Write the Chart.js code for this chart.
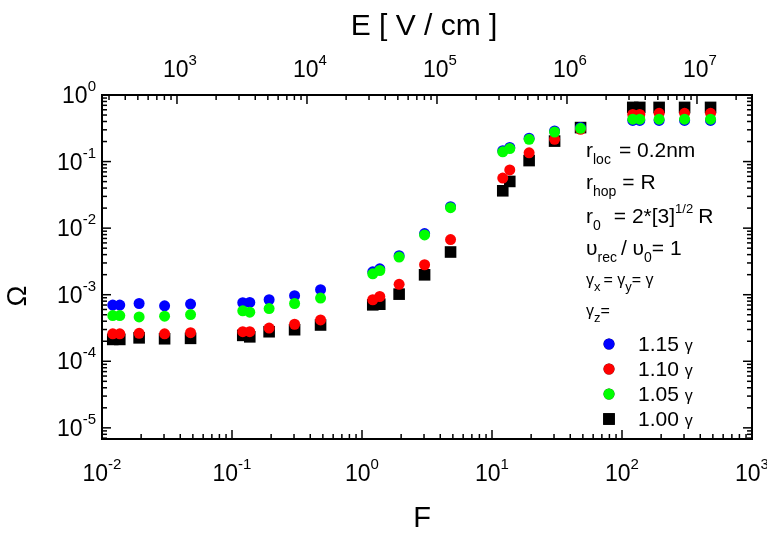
<!DOCTYPE html>
<html>
<head>
<meta charset="utf-8">
<script src="https://cdn.jsdelivr.net/npm/chart.js@4.4.1/dist/chart.umd.min.js"></script>
<style>
  body { margin: 0; background: #fff; }
  #wrap { width: 767px; height: 533px; }
</style>
</head>
<body>
<div id="wrap"><canvas id="omegaChart" width="767" height="533"></canvas></div>
<script>
// reduced field F (same for every series)
var F = [0.0121, 0.0137, 0.0193, 0.0303, 0.048,
         0.121, 0.137, 0.193, 0.303, 0.48,
         1.21, 1.37, 1.93, 3.03, 4.8,
         12.1, 13.7, 19.3, 30.3, 48,
         121, 137, 193, 303, 480];

// Omega for gamma_z = 1.15, 1.10, 1.05, 1.00 gamma
var omega115 = [6.98e-4, 6.98e-4, 7.38e-4, 6.81e-4, 7.23e-4,
                7.57e-4, 7.65e-4, 8.4e-4, 9.66e-4, 1.19e-3,
                2.21e-3, 2.45e-3, 3.86e-3, 8.3e-3, 2.1e-2,
                0.146, 0.163, 0.224, 0.288, 0.325,
                0.415, 0.415, 0.415, 0.415, 0.415];
var omega110 = [2.59e-4, 2.59e-4, 2.63e-4, 2.59e-4, 2.69e-4,
                2.78e-4, 2.78e-4, 3.16e-4, 3.6e-4, 4.18e-4,
                8.4e-4, 9.4e-4, 1.43e-3, 2.82e-3, 6.74e-3,
                0.0566, 0.0749, 0.1355, 0.216, 0.305,
                0.51, 0.51, 0.53, 0.53, 0.53];
var omega105 = [4.86e-4, 4.86e-4, 4.64e-4, 4.76e-4, 5.03e-4,
                5.73e-4, 5.47e-4, 6.2e-4, 7.38e-4, 8.9e-4,
                2.06e-3, 2.31e-3, 3.67e-3, 7.9e-3, 2.03e-2,
                0.140, 0.157, 0.216, 0.278, 0.316,
                0.433, 0.433, 0.433, 0.433, 0.433];
var omega100 = [2.13e-4, 2.13e-4, 2.25e-4, 2.18e-4, 2.21e-4,
                2.45e-4, 2.33e-4, 2.78e-4, 2.98e-4, 3.51e-4,
                7.05e-4, 7.2e-4, 1.02e-3, 1.99e-3, 4.38e-3,
                0.0364, 0.0503, 0.1035, 0.203, 0.324,
                0.651, 0.651, 0.651, 0.651, 0.651];

var seriesLabels = ['1.15', '1.10', '1.05', '1.00'];
var xTickExp = [-2, -1, 0, 1, 2, 3];
var eTickExp = [3, 4, 5, 6, 7];
var yTickExp = [0, -1, -2, -3, -4, -5];
var eFactor = 2.65e4; // E [V/cm] = F * eFactor

var FONT = '"Liberation Sans", Arial, sans-serif';

function toPoints(ys) {
    return F.map(function (f, i) { return { x: f, y: ys[i] }; });
}

// list of log ticks (1..9 x 10^n) inside [min, max]
function logTicks(min, max) {
    var out = [];
    for (var e = Math.floor(Math.log10(min)) - 1; e <= Math.ceil(Math.log10(max)); e++) {
        for (var m = 1; m <= 9; m++) {
            var v = m * Math.pow(10, e);
            if (v < min * 0.9999 || v > max * 1.0001) continue;
            out.push({ v: v, major: m === 1 });
        }
    }
    return out;
}

// draws text made of parts {t, size, dy}
function drawRich(ctx, x, y, parts, align) {
    var w = 0;
    parts.forEach(function (p) {
        ctx.font = p.size + 'px ' + FONT;
        p.w = ctx.measureText(p.t).width;
        w += p.w + (p.gap || 0);
    });
    var cx = x;
    if (align === 'center') cx = x - w / 2;
    if (align === 'right') cx = x - w;
    ctx.textAlign = 'left';
    ctx.textBaseline = 'alphabetic';
    parts.forEach(function (p) {
        ctx.font = p.size + 'px ' + FONT;
        ctx.fillText(p.t, cx, y + (p.dy || 0));
        cx += p.w + (p.gap || 0);
    });
}

function pow10(exp) {
    return [{ t: '10', size: 23 }, { t: String(exp), size: 15, dy: -12, gap: 0 }];
}

var axisPlugin = {
    id: 'originAxes',
    afterDraw: function (chart) {
        var ctx = chart.ctx, a = chart.chartArea;
        var xs = chart.scales.x, es = chart.scales.x2, ys = chart.scales.y;
        ctx.save();
        ctx.strokeStyle = '#000';
        ctx.fillStyle = '#000';
        ctx.lineWidth = 1.5;

        function seg(x1, y1, x2, y2) {
            ctx.beginPath(); ctx.moveTo(x1, y1); ctx.lineTo(x2, y2); ctx.stroke();
        }
        // inward ticks
        logTicks(xs.min, xs.max).forEach(function (t) {
            var px = xs.getPixelForValue(t.v);
            seg(px, a.bottom, px, a.bottom - (t.major ? 9 : 5));
        });
        logTicks(es.min, es.max).forEach(function (t) {
            var px = es.getPixelForValue(t.v);
            seg(px, a.top, px, a.top + (t.major ? 9 : 5));
        });
        logTicks(ys.min, ys.max).forEach(function (t) {
            var py = ys.getPixelForValue(t.v);
            var len = t.major ? 9 : 5;
            seg(a.left, py, a.left + len, py);
            seg(a.right, py, a.right - len, py);
        });
        ctx.lineWidth = 2;
        ctx.strokeRect(a.left, a.top, a.right - a.left, a.bottom - a.top);

        // tick labels
        xTickExp.forEach(function (e) {
            drawRich(ctx, xs.getPixelForValue(Math.pow(10, e)), a.bottom + 42, pow10(e), 'center');
        });
        eTickExp.forEach(function (e) {
            drawRich(ctx, es.getPixelForValue(Math.pow(10, e)) + 3, a.top - 18, pow10(e), 'center');
        });
        yTickExp.forEach(function (e) {
            drawRich(ctx, a.left - 6, ys.getPixelForValue(Math.pow(10, e)) + 8, pow10(e), 'right');
        });

        // axis titles
        drawRich(ctx, (a.left + a.right) / 2 - 3, 35, [{ t: 'E [ V / cm ]', size: 30 }], 'center');
        drawRich(ctx, (a.left + a.right) / 2 - 5, 527, [{ t: 'F', size: 29 }], 'center');
        ctx.save();
        ctx.translate(26, 296);
        ctx.rotate(-Math.PI / 2);
        drawRich(ctx, 0, 0, [{ t: 'Ω', size: 28 }], 'center');
        ctx.restore();

        // parameter notes
        var nx = 586;
        drawRich(ctx, nx, 157, [{ t: 'r', size: 21 }, { t: 'loc', size: 14, dy: 7, gap: 8 }, { t: '= 0.2nm', size: 21 }]);
        drawRich(ctx, nx, 189, [{ t: 'r', size: 21 }, { t: 'hop', size: 14, dy: 7, gap: 6 }, { t: '= R', size: 21 }]);
        drawRich(ctx, nx, 223, [{ t: 'r', size: 21 }, { t: '0', size: 14, dy: 7, gap: 13 }, { t: '= 2*[3]', size: 21 },
                                { t: '1/2', size: 13, dy: -10, gap: 5 }, { t: 'R', size: 21 }]);
        drawRich(ctx, nx, 255, [{ t: 'υ', size: 21 }, { t: 'rec', size: 14, dy: 7, gap: 4 }, { t: '/ υ', size: 21 },
                                { t: '0', size: 14, dy: 7 }, { t: '= 1', size: 21 }]);
        drawRich(ctx, nx, 285, [{ t: 'γ', size: 16 }, { t: 'x', size: 13, dy: 6, gap: 3 }, { t: '= γ', size: 16 },
                                { t: 'y', size: 13, dy: 6 }, { t: '= γ', size: 16 }]);
        drawRich(ctx, nx, 316, [{ t: 'γ', size: 16 }, { t: 'z', size: 13, dy: 6 }, { t: '=', size: 16 }]);

        // legend
        var lx = 609, ly = [344, 369, 394, 419];
        chart.data.datasets.forEach(function (ds, i) {
            var k = ds.legendRow;
            Chart.helpers.drawPoint(ctx, { pointStyle: ds.pointStyle, radius: ds.pointRadius, borderWidth: 0 }, lx, ly[k]);
            ctx.fillStyle = ds.backgroundColor;
            ctx.fill();
            ctx.fillStyle = '#000';
            drawRich(ctx, 638, ly[k] + 7, [{ t: seriesLabels[k] + ' ', size: 21 }, { t: 'γ', size: 16 }]);
        });
        ctx.restore();
    }
};

var ctx = document.getElementById('omegaChart').getContext('2d');
var omegaChart = new Chart(ctx, {
    type: 'scatter',
    data: {
        datasets: [
            { label: '1.05', legendRow: 2, data: toPoints(omega105), backgroundColor: '#00ff00', pointStyle: 'circle', pointRadius: 5.5, order: 0 },
            { label: '1.15', legendRow: 0, data: toPoints(omega115), backgroundColor: '#0000ff', pointStyle: 'circle', pointRadius: 5.5, order: 1 },
            { label: '1.10', legendRow: 1, data: toPoints(omega110), backgroundColor: '#ff0000', pointStyle: 'circle', pointRadius: 5.5, order: 2 },
            { label: '1.00', legendRow: 3, data: toPoints(omega100), backgroundColor: '#000000', pointStyle: 'rect', pointRadius: 8.2, order: 3 }
        ]
    },
    options: {
        responsive: false,
        animation: false,
        layout: { padding: { left: 102, right: 15, top: 95, bottom: 94 } },
        elements: { point: { borderWidth: 0, hoverRadius: 5.5 } },
        plugins: { legend: { display: false }, tooltip: { enabled: false } },
        scales: {
            x: { type: 'logarithmic', min: 0.01, max: 1000, display: false },
            x2: { type: 'logarithmic', position: 'top', min: 0.01 * eFactor, max: 1000 * eFactor, display: false },
            y: { type: 'logarithmic', min: 6.8e-6, max: 1, display: false }
        }
    },
    plugins: [axisPlugin]
});
</script>
</body>
</html>
